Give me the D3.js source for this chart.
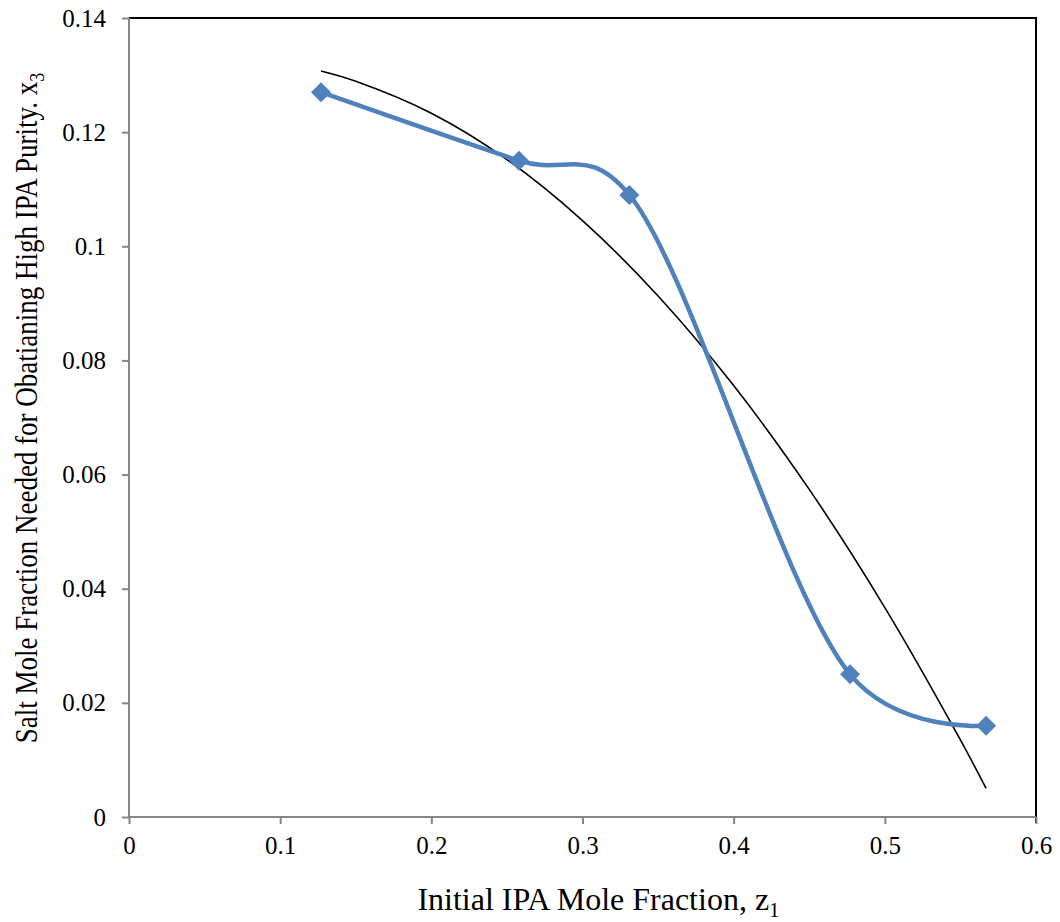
<!DOCTYPE html>
<html>
<head>
<meta charset="utf-8">
<script src="https://cdn.jsdelivr.net/npm/d3@7"></script>
<style>
  body { margin: 0; background: #fff; }
  text { font-family: "Liberation Serif", "Times New Roman", serif; fill: #000; }
</style>
</head>
<body>
<svg id="chart" width="1060" height="922"></svg>
<script>
// measured points
const z1 = [0.127, 0.258, 0.331, 0.477, 0.567];
const x3 = [0.127, 0.115, 0.109, 0.025, 0.016];

// trendline
const trendX = [0.127, 0.15, 0.2, 0.25, 0.3, 0.35, 0.4, 0.45, 0.5, 0.55, 0.567];
const trendY = [0.1307, 0.1289, 0.1233, 0.1152, 0.1045, 0.0913, 0.0756, 0.0574, 0.0367, 0.0135, 0.005];

const xTicks = [0, 0.1, 0.2, 0.3, 0.4, 0.5, 0.6];
const yTicks = [0, 0.02, 0.04, 0.06, 0.08, 0.1, 0.12, 0.14];

const svg = d3.select('#chart');
const margin = { top: 18, right: 24, bottom: 105, left: 129 };
const width = 1060, height = 922;

const x = d3.scaleLinear().domain([0, 0.6]).range([margin.left, width - margin.right]);
const y = d3.scaleLinear().domain([0, 0.14]).range([height - margin.bottom, margin.top]);

// top / right frame
svg.append('path')
  .attr('d', `M${margin.left},${margin.top}H${width - margin.right}V${height - margin.bottom + 6}`)
  .attr('fill', 'none')
  .attr('stroke', '#000')
  .attr('stroke-width', 2);

const fmt = d => String(+d.toFixed(2));

// axes
const xAxis = svg.append('g')
  .attr('transform', `translate(0,${height - margin.bottom})`)
  .call(d3.axisBottom(x).tickValues(xTicks).tickSize(7).tickPadding(12).tickFormat(fmt));
const yAxis = svg.append('g')
  .attr('transform', `translate(${margin.left},0)`)
  .call(d3.axisLeft(y).tickValues(yTicks).tickSize(7).tickPadding(16).tickFormat(fmt));

[xAxis, yAxis].forEach(g => {
  g.select('.domain').attr('stroke', '#868686').attr('stroke-width', 2);
  g.selectAll('.tick line').attr('stroke', '#868686').attr('stroke-width', 2);
  g.selectAll('.tick text')
    .style('font-family', '"Liberation Serif", serif')
    .style('font-size', '25px')
    .attr('fill', '#000');
});
xAxis.select('.domain').attr('d', `M${margin.left},0H${width - margin.right}`);
yAxis.select('.domain').attr('d', `M0,${height - margin.bottom}V${margin.top}`);

// trendline
const trend = trendX.map((v, i) => [v, trendY[i]]);
svg.append('path')
  .datum(trend)
  .attr('fill', 'none')
  .attr('stroke', '#000')
  .attr('stroke-width', 1.6)
  .attr('d', d3.line().x(d => x(d[0])).y(d => y(d[1])).curve(d3.curveCatmullRom));

// smoothed data line
const pts = z1.map((v, i) => [v, x3[i]]);
svg.append('path')
  .datum(pts)
  .attr('fill', 'none')
  .attr('stroke', '#4F81BD')
  .attr('stroke-width', 4.5)
  .attr('d', d3.line().x(d => x(d[0])).y(d => y(d[1])).curve(d3.curveCatmullRom.alpha(0.25)));

// diamond markers
svg.selectAll('.marker')
  .data(pts)
  .enter()
  .append('path')
  .attr('class', 'marker')
  .attr('transform', d => `translate(${x(d[0])},${y(d[1])})`)
  .attr('d', 'M0,-10L10,0L0,10L-10,0Z')
  .attr('fill', '#4F81BD');

// axis titles
const xt = svg.append('text')
  .attr('text-anchor', 'middle')
  .attr('x', x(0.3) + 16)
  .attr('y', 910)
  .style('font-size', '32px');
xt.append('tspan').text('Initial IPA Mole Fraction, z');
xt.append('tspan').attr('dy', 7).style('font-size', '21px').text('1');

const yt = svg.append('text')
  .attr('text-anchor', 'middle')
  .attr('transform', `translate(37,408) scale(1.2,1) rotate(-90)`)
  .style('font-size', '27px');
yt.append('tspan').text('Salt Mole Fraction Needed for Obatianing High IPA Purity. x');
yt.append('tspan').attr('dy', 6).style('font-size', '18px').text('3');
</script>
</body>
</html>
